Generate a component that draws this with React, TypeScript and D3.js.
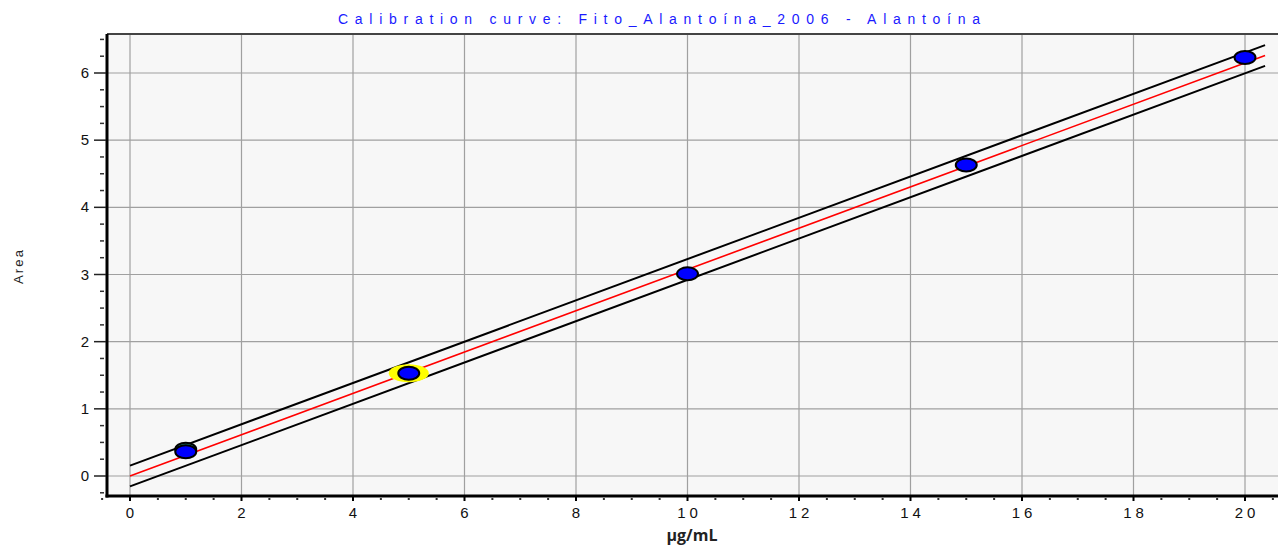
import React from "react";
import * as d3 from "d3";

const TITLE = "Calibration curve: Fito_Alantoína_2006 - Alantoína";
const X_LABEL = "µg/mL";
const Y_LABEL = "Area";

const concentrations = [1, 5, 10, 15, 20];
const areas = [0.36, 1.53, 3.01, 4.63, 6.23];
const highlighted = [false, true, false, false, false];
const replicateX = [1];
const replicateY = [0.4];

const slope = 0.3075;
const intercept = 0.0;
const bandHalf = 0.155;
const fitRange = [0, 20.36];

const xTicks = [0, 2, 4, 6, 8, 10, 12, 14, 16, 18, 20];
const yTicks = [0, 1, 2, 3, 4, 5, 6];

const W = 1278, H = 548;
const left = 107, top = 34, right = 1278, bottom = 496;
const FONT = "'Liberation Sans', Arial, sans-serif";

export default function App() {
  const x = d3.scaleLinear().domain([0, 20]).range([130, 1245]);
  const y = d3.scaleLinear().domain([0, 6]).range([476, 73]);
  const xMinor = d3.range(-0.5, 20.76, 0.5).filter((v) => Math.abs(v % 2) > 1e-6);
  const yMinor = d3.range(-0.25, 6.6, 0.25).filter((v) => Math.abs(v - Math.round(v)) > 1e-6);
  const fitLine = (off: number) =>
    d3.line<number>().x((v) => x(v)).y((v) => y(intercept + slope * v + off))(fitRange) || "";

  return (
    <svg width={W} height={H} style={{ position: "absolute", left: 0, top: 0, background: "#fff" }}>
      <text x={659} y={24} fill="#1a1aff" fontFamily={FONT} fontSize={14} textAnchor="middle"
        textLength={642} lengthAdjust="spacing">{TITLE}</text>
      <rect x={left} y={top} width={right - left} height={bottom - top} fill="#f7f7f7" />
      {xTicks.map((t) => (
        <line key={"gx" + t} x1={x(t)} x2={x(t)} y1={top} y2={bottom} stroke="#a0a0a0" strokeWidth={1.2} />
      ))}
      {yTicks.map((t) => (
        <line key={"gy" + t} x1={left} x2={right} y1={y(t)} y2={y(t)} stroke="#a0a0a0" strokeWidth={1.2} />
      ))}
      <line x1={left} x2={right} y1={top} y2={top} stroke="#444" strokeWidth={2} />
      <path d={fitLine(bandHalf)} fill="none" stroke="#000" strokeWidth={2} />
      <path d={fitLine(-bandHalf)} fill="none" stroke="#000" strokeWidth={2} />
      <path d={fitLine(0)} fill="none" stroke="#ff0000" strokeWidth={1.6} />
      {concentrations.map((c, i) =>
        highlighted[i] ? (
          <ellipse key={"h" + i} cx={x(c)} cy={y(areas[i])} rx={20} ry={9} fill="#ffff00" />
        ) : null
      )}
      {replicateX.map((c, i) => (
        <ellipse key={"r" + i} cx={x(c)} cy={y(replicateY[i])} rx={10.5} ry={6.5} fill="#1a8a80" stroke="#000" strokeWidth={2} />
      ))}
      {concentrations.map((c, i) => (
        <ellipse key={"p" + i} cx={x(c)} cy={y(areas[i])} rx={10.5} ry={6.5} fill="#0000ff" stroke="#000" strokeWidth={2} />
      ))}
      <line x1={left} x2={left} y1={top} y2={bottom + 1.5} stroke="#000" strokeWidth={3} />
      <line x1={left - 1.5} x2={right} y1={bottom} y2={bottom} stroke="#000" strokeWidth={3} />
      {yTicks.map((t) => (
        <g key={"yt" + t}>
          <line x1={94} x2={106} y1={y(t)} y2={y(t)} stroke="#222" strokeWidth={1.5} />
          <text x={89} y={y(t) + 5} fontFamily={FONT} fontSize={15} textAnchor="end" fill="#111">{t}</text>
        </g>
      ))}
      {yMinor.map((t) => (
        <line key={"ym" + t} x1={100} x2={104} y1={y(t)} y2={y(t)} stroke="#333" strokeWidth={1.5} />
      ))}
      {xTicks.map((t) => (
        <g key={"xt" + t}>
          <line x1={x(t)} x2={x(t)} y1={bottom} y2={bottom + 5} stroke="#000" strokeWidth={2} />
          <text x={x(t) + (String(t).length > 1 ? 2 : 0)} y={518} fontFamily={FONT} fontSize={15} textAnchor="middle"
            letterSpacing={String(t).length > 1 ? 4 : 0} fill="#111">{t}</text>
        </g>
      ))}
      {xMinor.map((t) => (
        <rect key={"xm" + t} x={x(t) - 1} y={bottom + 2} width={2} height={2} fill="#333" />
      ))}
      <text x={692} y={541} fontFamily="'Open Sans', sans-serif" fontWeight="bold" fontSize={16}
        textAnchor="middle" fill="#222">{X_LABEL}</text>
      <text transform={`translate(23,267) rotate(-90)`} fontFamily={FONT} fontSize={13} textAnchor="middle"
        textLength={34} lengthAdjust="spacing" fill="#222">{Y_LABEL}</text>
    </svg>
  );
}
